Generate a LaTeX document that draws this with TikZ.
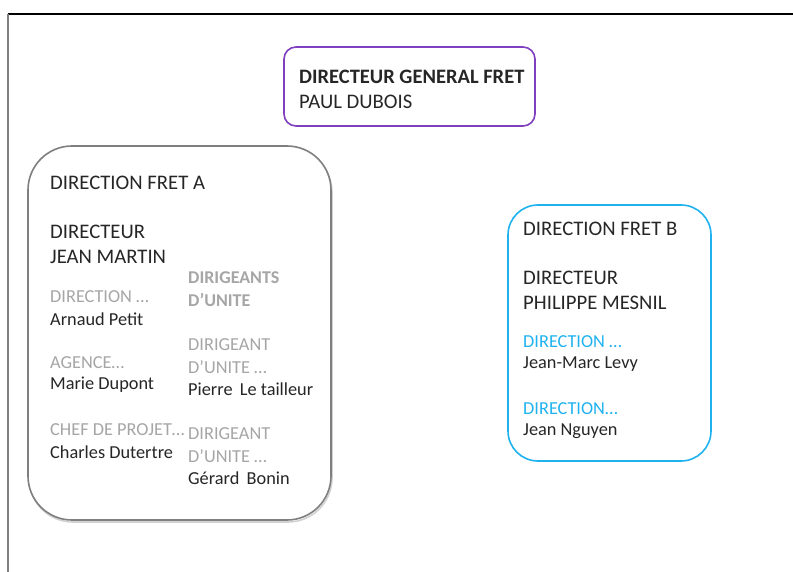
\documentclass[tikz,border=0pt]{standalone}
\usepackage{fontspec}
\setmainfont{Carlito}
\definecolor{txt}{HTML}{262626}
\definecolor{lgray}{HTML}{A6A6A6}
\definecolor{cyanb}{HTML}{1FB2EE}
\definecolor{purp}{HTML}{7F3FBF}
\definecolor{boxgray}{HTML}{7F7F7F}
\begin{document}
\begin{tikzpicture}[x=1bp,y=-1bp,
  big/.style={anchor=west,inner sep=0pt,text=txt,font=\fontsize{20.7bp}{22bp}\selectfont},
  small/.style={anchor=west,inner sep=0pt,text=txt,font=\fontsize{18.3bp}{20bp}\selectfont},
  grey/.style={small,text=lgray},
  greybold/.style={small,text=lgray,font=\fontsize{18bp}{20bp}\selectfont\bfseries},
  cyantxt/.style={small,text=cyanb},
  frame/.style={line width=1.2bp},
  boxa/.style={draw=boxgray,line width=1.6bp,rounded corners=44bp},
  boxb/.style={draw=cyanb,line width=1.6bp,rounded corners=30bp},
  boxp/.style={draw=purp,line width=1.6bp,rounded corners=12bp}]
\useasboundingbox (0,0) rectangle (793,572);
% frame
\draw[frame,black] (8,14) -- (793,14);
\draw[frame,gray] (8,14) -- (8,572);
% boxes
\draw[boxp] (284,47) rectangle (535,126);
\draw[gray!35,line width=1.6bp,rounded corners=44bp] (29,148.5) rectangle (332,522);
\draw[boxa,fill=white] (28,146) rectangle (331,520);
\draw[boxb] (508,205) rectangle (711,461);
% top box
\node[big,font=\fontsize{20.5bp}{22bp}\selectfont\bfseries] (dg) at (299,77) {DIRECTEUR GENERAL FRET};
\node[big] (pd) at (299,102) {PAUL DUBOIS};
% box A
\node[big] (fa) at (50,183) {DIRECTION FRET A};
\node[big] (da) at (50,232) {DIRECTEUR};
\node[big] (jm) at (50,257) {JEAN MARTIN};
\node[grey] (d1) at (50,297) {DIRECTION \dots};
\node[small] (ap) at (50,319) {Arnaud Petit};
\node[grey] (ag) at (50,363) {AGENCE\dots};
\node[small] (md) at (50,385) {Marie Dupont};
\node[grey] (cp) at (50,430) {CHEF DE PROJET\dots};
\node[small] (cd) at (50,452) {Charles Dutertre};
\node[greybold] (du1) at (188,278) {DIRIGEANTS};
\node[greybold] (du2) at (188,300) {D’UNITE};
\node[grey] (dr1) at (188,345) {DIRIGEANT};
\node[grey] (du3) at (188,367) {D’UNITE \dots};
\node[small] (pl) at (188,389) {Pierre\hspace{0.4em}Le tailleur};
\node[grey] (dr2) at (188,434) {DIRIGEANT};
\node[grey] (du4) at (188,456) {D’UNITE \dots};
\node[small] (gb) at (188,478) {Gérard\hspace{0.4em}Bonin};
% box B
\node[big] (fb) at (523,229) {DIRECTION FRET B};
\node[big] (db) at (523,278) {DIRECTEUR};
\node[big] (pm) at (523,303) {PHILIPPE MESNIL};
\node[cyantxt] (b1) at (523,342) {DIRECTION \dots};
\node[small] (jl) at (523,364) {Jean-Marc Levy};
\node[cyantxt] (b2) at (523,409) {DIRECTION\dots};
\node[small] (jn) at (523,431) {Jean Nguyen};
\end{tikzpicture}
\end{document}
